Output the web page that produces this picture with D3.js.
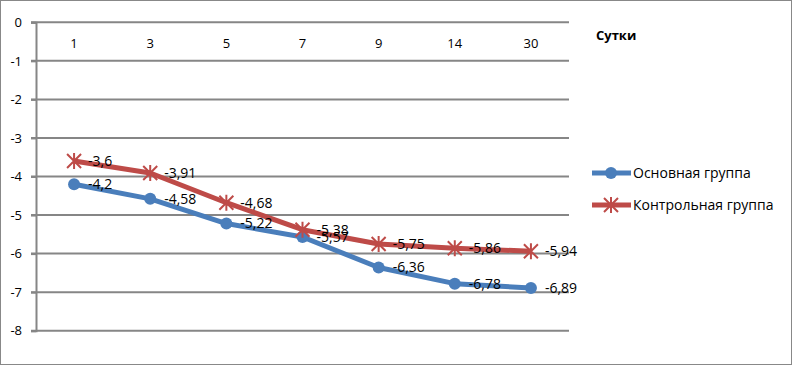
<!DOCTYPE html>
<html>
<head>
<meta charset="utf-8">
<script src="https://cdn.jsdelivr.net/npm/d3@7"></script>
<style>
  body { margin:0; background:#fff; }
  text { font-family: "Open Sans", "DejaVu Sans", sans-serif; }
</style>
</head>
<body>
<div id="chart"></div>
<script>
const days = ["1","3","5","7","9","14","30"]
const mainGroup = [-4.2, -4.58, -5.22, -5.57, -6.36, -6.78, -6.89]
const controlGroup = [-3.6, -3.91, -4.68, -5.38, -5.75, -5.86, -5.94]
const yTicks = [0,-1,-2,-3,-4,-5,-6,-7,-8]
const seriesNames = ["Основная группа", "Контрольная группа"]

const W = 793, H = 366
const plot = {left:36, right:569, top:22.3, bottom:330.7}
const blue = "#4a7ebb", red = "#be4b48", grid = "#868686"

const svg = d3.select("#chart").append("svg")
  .attr("width", W).attr("height", H)

// outer frame
svg.append("rect")
  .attr("x",0.5).attr("y",0.5).attr("width",791).attr("height",364)
  .style("fill","none").style("stroke","#888").style("stroke-width",1)

const x = d3.scaleBand().domain(days).range([plot.left, plot.right])
const y = d3.scaleLinear().domain([-8, 0]).range([plot.bottom, plot.top])

// gridlines
svg.selectAll(null)
  .data(yTicks)
  .enter()
  .append("line")
  .attr("x1", plot.left - 5)
  .attr("x2", plot.right)
  .attr("y1", d=>y(d))
  .attr("y2", d=>y(d))
  .style("stroke", grid)
  .style("stroke-width", 2)

// y axis
const yAxis = svg.append("g")
  .attr("transform","translate(" + plot.left + ",0)")
  .call(d3.axisLeft(y).tickValues(yTicks).tickSize(5).tickPadding(9)
    .tickFormat(d => d.toString()))
yAxis.select(".domain").style("stroke", grid).style("stroke-width", 2)
yAxis.selectAll(".tick line").style("stroke", grid).style("stroke-width", 2)
yAxis.selectAll("text").style("font-size","13px").style("fill","#000")
  .style("font-family","'Open Sans', sans-serif")

// x axis (categories, drawn under the zero line)
const xAxis = svg.append("g")
  .attr("transform","translate(0," + y(0) + ")")
  .call(d3.axisBottom(x).tickSize(0).tickPadding(16))
xAxis.select(".domain").remove()
xAxis.selectAll("text").style("font-size","13px").style("fill","#000")
  .style("font-family","'Open Sans', sans-serif")

svg.append("text")
  .attr("x", 596).attr("y", 40)
  .style("font-size","13px").style("font-weight","bold")
  .text("Сутки")

const line = d3.line()
  .x((d,i) => x(days[i]) + x.bandwidth()/2)
  .y(d => y(d))

function star(g, cx, cy) {
  const s = 7
  g.append("path")
    .attr("d", "M" + (cx-s) + "," + (cy-s) + "L" + (cx+s) + "," + (cy+s)
      + "M" + (cx-s) + "," + (cy+s) + "L" + (cx+s) + "," + (cy-s)
      + "M" + cx + "," + (cy-s-1) + "L" + cx + "," + (cy+s+1))
    .style("stroke", red).style("stroke-width", 2).style("fill","none")
}

// main group
svg.append("path")
  .datum(mainGroup)
  .attr("d", line)
  .style("fill","none").style("stroke", blue).style("stroke-width", 5)
  .style("stroke-linejoin","round")
svg.selectAll(null)
  .data(mainGroup)
  .enter()
  .append("circle")
  .attr("cx", (d,i) => x(days[i]) + x.bandwidth()/2)
  .attr("cy", d => y(d))
  .attr("r", 6)
  .style("fill", blue)

// control group
svg.append("path")
  .datum(controlGroup)
  .attr("d", line)
  .style("fill","none").style("stroke", red).style("stroke-width", 5)
  .style("stroke-linejoin","round")
controlGroup.forEach((d,i) => star(svg, x(days[i]) + x.bandwidth()/2, y(d)))

// data labels
function labels(data) {
  svg.selectAll(null)
    .data(data)
    .enter()
    .append("text")
    .attr("x", (d,i) => x(days[i]) + x.bandwidth()/2 + 14)
    .attr("y", d => y(d))
    .attr("dy", "0.35em")
    .style("font-size","14px")
    .text(d => d.toString().replace(".", ","))
}
labels(mainGroup)
labels(controlGroup)

// legend
const legend = [[blue, 173], [red, 205]]
legend.forEach((l, i) => {
  svg.append("line")
    .attr("x1", 592).attr("x2", 631).attr("y1", l[1]).attr("y2", l[1])
    .style("stroke", l[0]).style("stroke-width", 5)
  if (i == 0) {
    svg.append("circle").attr("cx", 611).attr("cy", l[1]).attr("r", 6).style("fill", blue)
  } else {
    star(svg, 611, l[1])
  }
  svg.append("text")
    .attr("x", 633).attr("y", l[1]).attr("dy","0.35em")
    .style("font-size","14px")
    .text(seriesNames[i])
})
</script>
</body>
</html>
